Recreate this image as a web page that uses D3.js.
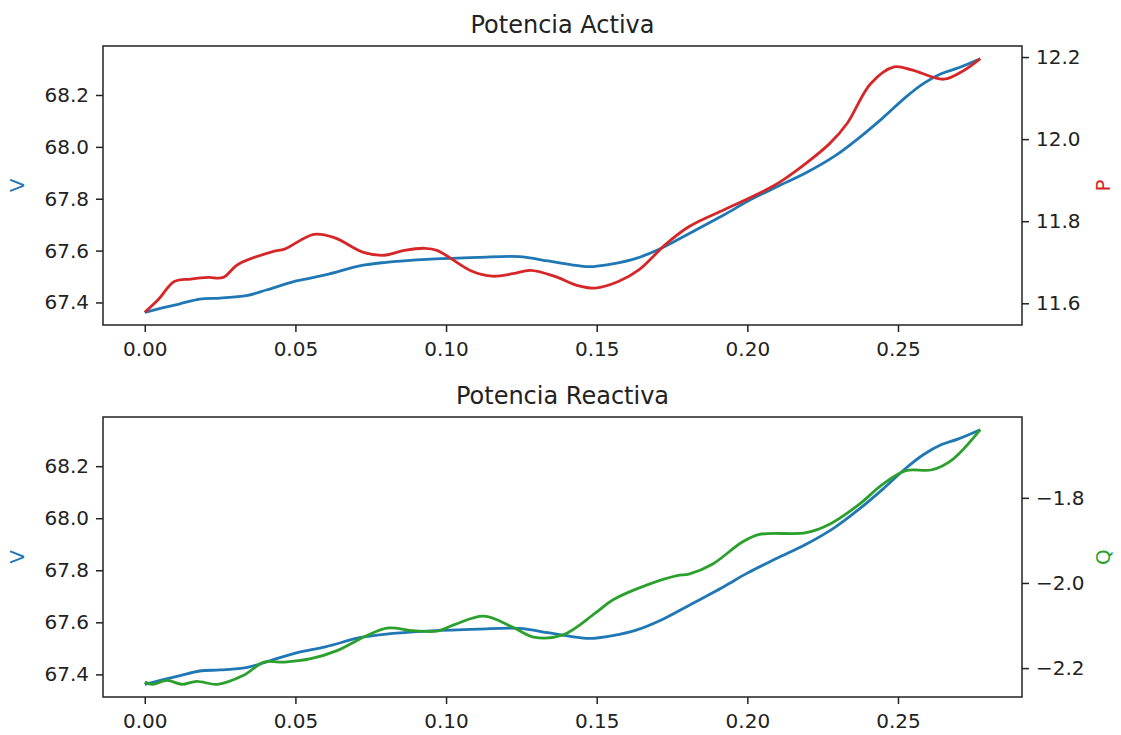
<!DOCTYPE html>
<html lang="es">
<head>
  <meta charset="UTF-8">
  <title>Potencia Activa / Reactiva</title>
  <script src="https://d3js.org/d3.v7.min.js"></script>
  <style>
    body { margin: 0; background: #fff; font-family: "DejaVu Sans", sans-serif; }
    .tick text { font-size: 20px; fill: #222; font-family: "DejaVu Sans", sans-serif; }
    .tick line { stroke: #222; stroke-width: 1.5; }
    .domain { display: none; }
    .frame { fill: none; stroke: #222; stroke-width: 1.5; }
    .serie { fill: none; stroke-width: 2.8; }
    .titulo { font-size: 24px; fill: #222; text-anchor: middle; }
    .ylab { font-size: 20px; text-anchor: middle; }
  </style>
</head>
<body>
  <svg id="chart" width="1121" height="735"></svg>

  <script>
    // tensión V (la misma en ambos paneles)
    const vT = [0, 0.0055, 0.0114, 0.0182, 0.025, 0.0337, 0.0406, 0.0503, 0.06, 0.0717, 0.0794,
      0.095, 0.1106, 0.1242, 0.1339, 0.1417, 0.1475, 0.1553, 0.1631, 0.1709, 0.1806, 0.1923,
      0.2001, 0.2098, 0.2195, 0.2292, 0.237, 0.2448, 0.2526, 0.2584, 0.2643, 0.2701, 0.2773];
    const vVals = [67.362, 67.378, 67.394, 67.413, 67.417, 67.426, 67.449, 67.483, 67.506, 67.542, 67.554,
      67.567, 67.574, 67.577, 67.560, 67.545, 67.538, 67.549, 67.570, 67.606, 67.665, 67.738,
      67.790, 67.846, 67.900, 67.966, 68.034, 68.110, 68.192, 68.244, 68.282, 68.305, 68.340];

    // potencia activa P
    const pT = [0, 0.0045, 0.0098, 0.0153, 0.0211, 0.026, 0.0308, 0.0425, 0.0464, 0.0561, 0.0629,
      0.0726, 0.0794, 0.0862, 0.093, 0.097, 0.1086, 0.1154, 0.1222, 0.128, 0.1359, 0.1437,
      0.1495, 0.1572, 0.1641, 0.1728, 0.1807, 0.1923, 0.204, 0.2118, 0.2273, 0.2331, 0.2409,
      0.2487, 0.2545, 0.2652, 0.272, 0.2773];
    const pVals = [11.578, 11.609, 11.653, 11.659, 11.663, 11.663, 11.694, 11.726, 11.732, 11.768, 11.760,
      11.724, 11.717, 11.729, 11.734, 11.729, 11.678, 11.666, 11.672, 11.680, 11.666, 11.643,
      11.637, 11.653, 11.682, 11.743, 11.787, 11.828, 11.868, 11.900, 11.989, 12.038, 12.135,
      12.176, 12.169, 12.146, 12.168, 12.196];

    // potencia reactiva Q
    const qT = [0, 0.0026, 0.0075, 0.0123, 0.0172, 0.0241, 0.0328, 0.0396, 0.0464, 0.0551, 0.0638,
      0.0736, 0.0804, 0.0892, 0.097, 0.1028, 0.1125, 0.1222, 0.129, 0.1388, 0.1495, 0.1553,
      0.167, 0.1767, 0.1806, 0.1884, 0.1981, 0.204, 0.2195, 0.2273, 0.237, 0.2448, 0.2526,
      0.2613, 0.2681, 0.2773];
    const qVals = [-2.233, -2.238, -2.229, -2.238, -2.231, -2.238, -2.217, -2.186, -2.186, -2.178, -2.159,
      -2.124, -2.106, -2.112, -2.113, -2.098, -2.078, -2.104, -2.127, -2.122, -2.071, -2.040,
      -2.004, -1.983, -1.979, -1.956, -1.905, -1.886, -1.882, -1.862, -1.816, -1.769, -1.736,
      -1.734, -1.710, -1.640];

    const xTicks = [0, 0.05, 0.10, 0.15, 0.20, 0.25];
    const vTicks = [67.4, 67.6, 67.8, 68.0, 68.2];
    const pTicks = [11.6, 11.8, 12.0, 12.2];
    const qTicks = [-2.2, -2.0, -1.8];

    const svg = d3.select("#chart");
    const left = 103, right = 1022;

    // margen del 5% como matplotlib
    function padded(vals) {
      const [a, b] = d3.extent(vals);
      const p = (b - a) * 0.05;
      return [a - p, b + p];
    }

    const x = d3.scaleLinear().domain(padded(vT.concat(pT, qT))).range([left, right]);

    const panels = [
      { top: 46, bottom: 325, title: "Potencia Activa", label: "P", color: "#d62728",
        t: pT, vals: pVals, ticks: pTicks },
      { top: 417, bottom: 697, title: "Potencia Reactiva", label: "Q", color: "#2ca02c",
        t: qT, vals: qVals, ticks: qTicks }
    ];
    const blue = "#1f77b4";

    panels.forEach(p => {
      const yV = d3.scaleLinear().domain(padded(vVals)).range([p.bottom, p.top]);
      const y2 = d3.scaleLinear().domain(padded(p.vals)).range([p.bottom, p.top]);
      const mid = (p.top + p.bottom) / 2;

      svg.append("g")
        .attr("transform", `translate(0,${p.bottom})`)
        .call(d3.axisBottom(x).tickValues(xTicks).tickFormat(d3.format(".2f")).tickSize(7).tickPadding(10));

      svg.append("g")
        .attr("transform", `translate(${left},0)`)
        .call(d3.axisLeft(yV).tickValues(vTicks).tickFormat(d3.format(".1f")).tickSize(7).tickPadding(7));

      svg.append("g")
        .attr("transform", `translate(${right},0)`)
        .call(d3.axisRight(y2).tickValues(p.ticks).tickFormat(d3.format(".1f")).tickSize(7).tickPadding(7));

      const lineV = d3.line().x((d, i) => x(vT[i])).y(d => yV(d)).curve(d3.curveCatmullRom);
      const line2 = d3.line().x((d, i) => x(p.t[i])).y(d => y2(d)).curve(d3.curveCatmullRom);

      svg.append("path").datum(vVals).attr("class", "serie").attr("stroke", blue).attr("d", lineV);
      svg.append("path").datum(p.vals).attr("class", "serie").attr("stroke", p.color).attr("d", line2);

      svg.append("rect").attr("class", "frame")
        .attr("x", left).attr("y", p.top)
        .attr("width", right - left).attr("height", p.bottom - p.top);

      svg.append("text").attr("class", "titulo")
        .attr("x", (left + right) / 2).attr("y", p.top - 13)
        .text(p.title);

      svg.append("text").attr("class", "ylab")
        .attr("fill", blue)
        .attr("transform", `translate(17,${mid}) rotate(-90)`)
        .attr("dy", "0.35em")
        .text("V");

      svg.append("text").attr("class", "ylab")
        .attr("fill", p.color)
        .attr("transform", `translate(1103,${mid}) rotate(-90)`)
        .attr("dy", "0.35em")
        .text(p.label);
    });
  </script>
</body>
</html>
